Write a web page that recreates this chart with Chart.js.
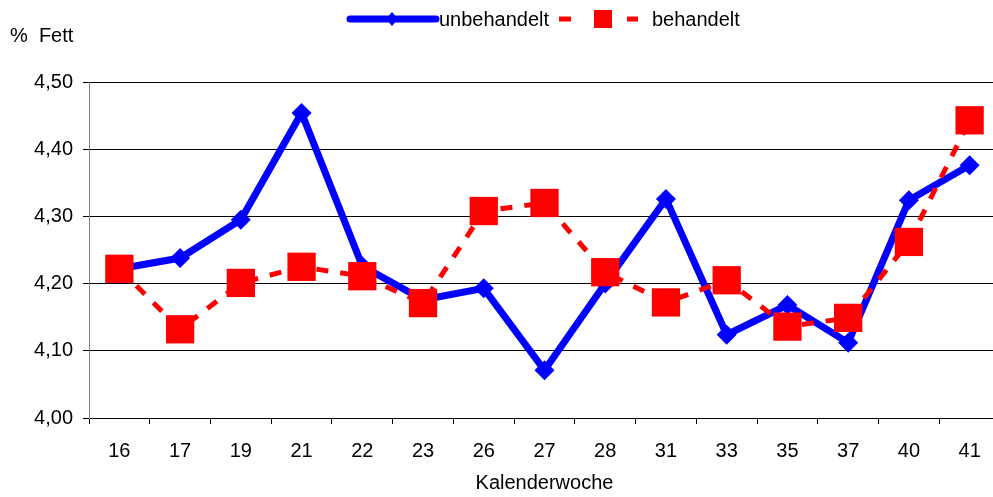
<!DOCTYPE html>
<html>
<head>
<meta charset="utf-8">
<script src="https://cdn.jsdelivr.net/npm/chart.js@4.4.1/dist/chart.umd.min.js"></script>
<style>
  html, body { margin: 0; padding: 0; background: #fff; overflow: hidden; }
  #wrap { width: 1020px; height: 497px; }
</style>
</head>
<body>
<div id="wrap"><canvas id="c" width="1020" height="497"></canvas></div>
<script>
const categories = ['16', '17', '19', '21', '22', '23', '26', '27', '28', '31', '33', '35', '37', '40', '41'];
const unbehandelt = [4.222, 4.238, 4.295, 4.454, 4.226, 4.176, 4.193, 4.071, 4.200, 4.326, 4.124, 4.168, 4.112, 4.324, 4.376];
const behandelt = [4.222, 4.132, 4.201, 4.225, 4.211, 4.171, 4.308, 4.320, 4.217, 4.172, 4.205, 4.136, 4.149, 4.262, 4.443];
const seriesNames = ['unbehandelt', 'behandelt'];
const yTitle = '%  Fett';
const xTitle = 'Kalenderwoche';

const FONT = '"Liberation Sans", Arial, sans-serif';
const FS = 20;

const extraText = {
  id: 'extraText',
  afterDraw(chart) {
    const ctx = chart.ctx;
    ctx.save();
    ctx.fillStyle = '#000';
    ctx.font = FS + 'px ' + FONT;
    ctx.textBaseline = 'middle';
    ctx.textAlign = 'left';
    ctx.fillText(yTitle, 10, 36);
    ctx.textAlign = 'center';
    const ca = chart.chartArea;
    ctx.fillText(xTitle, (ca.left + ca.right) / 2, 483);

    // legend
    const ly = 19;
    ctx.strokeStyle = '#0000FF';
    ctx.lineWidth = 7;
    ctx.lineCap = 'round';
    ctx.setLineDash([]);
    ctx.beginPath();
    ctx.moveTo(350, ly); ctx.lineTo(436, ly);
    ctx.stroke();
    ctx.fillStyle = '#0000FF';
    ctx.beginPath();
    ctx.moveTo(392 - 6, ly); ctx.lineTo(392, ly - 7); ctx.lineTo(392 + 6, ly); ctx.lineTo(392, ly + 7);
    ctx.closePath(); ctx.fill();
    ctx.fillStyle = '#000';
    ctx.textAlign = 'left';
    ctx.fillText(seriesNames[0], 439, ly + 1);

    ctx.fillStyle = '#FF0000';
    ctx.fillRect(559, ly - 2.5, 12, 5);
    ctx.fillRect(594, ly - 9, 18, 18);
    ctx.fillRect(627, ly - 2.5, 11, 5);
    ctx.fillStyle = '#000';
    ctx.fillText(seriesNames[1], 652, ly + 1);
    ctx.restore();
  }
};

new Chart(document.getElementById('c'), {
  type: 'line',
  data: {
    labels: categories,
    datasets: [
      {
        label: seriesNames[0],
        data: unbehandelt,
        borderColor: '#0000FF',
        backgroundColor: '#0000FF',
        borderWidth: 7,
        pointStyle: 'rectRot',
        pointRadius: 10,
        pointBorderWidth: 0,
        pointBackgroundColor: '#0000FF',
        tension: 0,
        order: 2
      },
      {
        label: seriesNames[1],
        data: behandelt,
        borderColor: '#FF0000',
        backgroundColor: '#FF0000',
        borderWidth: 5,
        borderDash: [12, 12],
        pointStyle: 'rect',
        pointRadius: 20,
        pointBorderWidth: 0,
        pointBackgroundColor: '#FF0000',
        tension: 0,
        order: 1
      }
    ]
  },
  options: {
    responsive: false,
    animation: false,
    devicePixelRatio: 1,
    layout: { padding: { top: 82, right: 1, left: 0, bottom: 0 } },
    plugins: { legend: { display: false }, tooltip: { enabled: false } },
    scales: {
      x: {
        offset: true,
        grid: { offset: true, drawOnChartArea: false, drawTicks: true, tickLength: 6, color: '#000', tickColor: '#000' },
        border: { display: true, color: '#000', width: 1 },
        ticks: { color: '#000', font: { family: FONT, size: FS }, padding: 15, maxRotation: 0, autoSkip: false },
        afterFit(s) { s.height = 79; }
      },
      y: {
        min: 4.0,
        max: 4.5,
        grid: { color: '#000', tickColor: '#000', tickLength: 6, lineWidth: 1 },
        border: { display: true, color: '#808080', width: 1 },
        ticks: {
          stepSize: 0.1,
          color: '#000',
          font: { family: FONT, size: FS },
          padding: 10,
          callback: (v) => Number(v).toFixed(2).replace('.', ',')
        },
        afterFit(s) { s.width = 89; }
      }
    }
  },
  plugins: [extraText]
});
</script>
</body>
</html>
